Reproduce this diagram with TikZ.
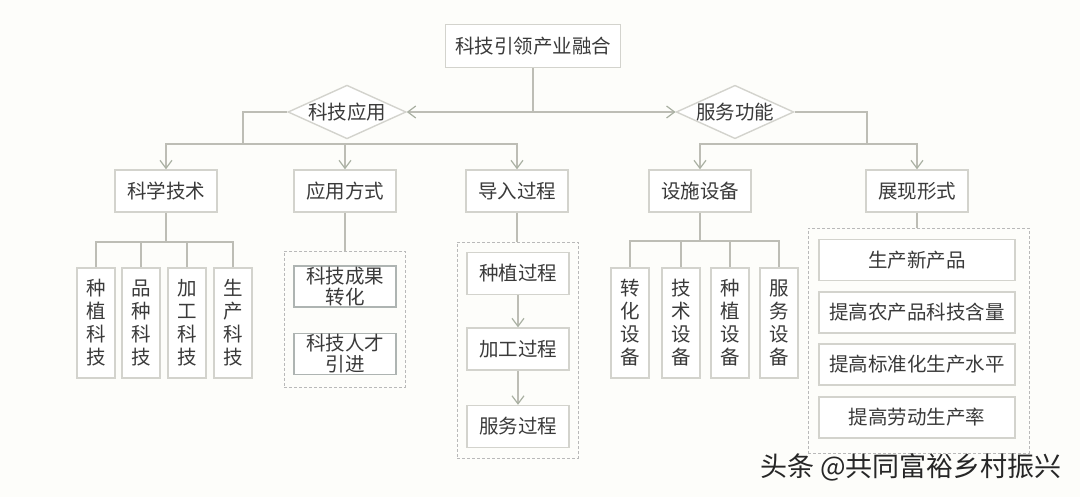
\documentclass[tikz,border=0pt]{standalone}
\usepackage{fontspec}
\setmainfont{Noto Sans CJK SC}
\usetikzlibrary{shapes.geometric,arrows.meta,positioning}

\definecolor{bgc}{HTML}{FDFDFA}
\definecolor{boxline}{HTML}{D3D3CD}
\definecolor{innerline}{HTML}{AEB4B2}
\definecolor{conn}{HTML}{BDBDB5}
\definecolor{tipc}{HTML}{A9B0A2}
\definecolor{txt}{HTML}{3A3A3A}

\begin{document}
\begin{tikzpicture}[x=1pt,y=-1pt,
    box/.style = {shape=rectangle, draw=boxline, line width=1.4pt, fill=white,
      text=txt, align=center, inner sep=0pt, font=\fontsize{19.5}{23}\selectfont,
      minimum width=102pt, minimum height=42pt},
    topbox/.style = {box, minimum width=175pt, minimum height=43pt},
    vbox/.style = {box, minimum width=38pt, minimum height=110pt},
    wbox/.style = {box, minimum width=196pt, minimum height=41pt},
    ibox/.style = {box, draw=innerline, line width=1.6pt, minimum height=41pt,
      font=\fontsize{19.5}{21}\selectfont},
    choice/.style = {shape=diamond, draw=boxline, line width=1.4pt, fill=white,
      text=txt, inner sep=0pt, aspect=2.2, font=\fontsize{19.5}{23}\selectfont,
      minimum width=116pt, minimum height=50pt},
    group/.style = {shape=rectangle, draw=gray!55, line width=0.8pt,
      dash pattern=on 3pt off 2pt, inner sep=0pt},
    line/.style = {draw=conn, line width=1.2pt},
    arr/.style = {line, -{Straight Barb[length=8pt, width=12pt, color=tipc]}},
    wmark/.style = {text=black!85, font=\fontsize{27}{30}\selectfont}]

  \fill[bgc] (0,0) rectangle (1080,497);
  \useasboundingbox (0,0) rectangle (1080,497);

  % top level
  \node[topbox] (top) at (533,46) {科技引领产业融合};
  \node[choice] (kjyy) at (347,112) {科技应用};
  \node[choice] (fwgn) at (735,112) {服务功能};

  % second level
  \node[box] (kxjs) at (166,191) {科学技术};
  \node[box] (yyfs) at (345,191) {应用方式};
  \node[box] (drgc) at (517,191) {导入过程};
  \node[box] (sssb) at (700,191) {设施设备};
  \node[box] (zxxs) at (917,191) {展现形式};

  % science and technology
  \node[vbox] (zzkj) at (96,323) {种\\植\\科\\技};
  \node[vbox] (pzkj) at (141,323) {品\\种\\科\\技};
  \node[vbox] (jgkj) at (187,323) {加\\工\\科\\技};
  \node[vbox] (sckj) at (233,323) {生\\产\\科\\技};

  % ways of application
  \node[group, minimum width=121pt, minimum height=136pt] (yyg) at (344.5,319) {};
  \node[ibox] (cgzh) at (345,286.5) {科技成果\\转化};
  \node[ibox] (rcyj) at (345,354) {科技人才\\引进};

  % process
  \node[group, minimum width=121pt, minimum height=216pt] (drg) at (517.5,350) {};
  \node[box] (zzgc) at (518,273.5) {种植过程};
  \node[box] (jggc) at (518,349) {加工过程};
  \node[box] (fwgc) at (518,426.5) {服务过程};

  % equipment
  \node[vbox] (zhsb) at (630,323) {转\\化\\设\\备};
  \node[vbox] (jssb) at (681,323) {技\\术\\设\\备};
  \node[vbox] (zzsb) at (730,323) {种\\植\\设\\备};
  \node[vbox] (fwsb) at (779,323) {服\\务\\设\\备};

  % forms
  \node[group, minimum width=221pt, minimum height=225pt] (zxg) at (918.5,340.5) {};
  \node[wbox] (sccp) at (917,260) {生产新产品};
  \node[wbox] (kjhl) at (917,312.5) {提高农产品科技含量};
  \node[wbox] (bzsp) at (917,364.5) {提高标准化生产水平};
  \node[wbox] (ldl) at (917,417.5) {提高劳动生产率};

  \node[wmark] (wm) at (911,467) {头条 @共同富裕乡村振兴};

  % connectors
  \coordinate (mid) at (top.south |- kjyy);
  \coordinate (kjbar) at (243,144);
  \coordinate (fwbar) at (867,144);
  \coordinate (kxbar) at (166,242);
  \coordinate (ssbar) at (700,241);

  \draw[line] (top.south) -- (mid);
  \draw[arr] (mid) -- (kjyy.east);
  \draw[arr] (mid) -- (fwgn.west);

  \draw[line] (kjyy.west) -| (kjbar);
  \draw[arr] (kjbar) -| (kxjs.north);
  \draw[arr] (kjbar) -| (yyfs.north);
  \draw[arr] (kjbar) -| (drgc.north);

  \draw[line] (fwgn.east) -| (fwbar);
  \draw[arr] (fwbar) -| (sssb.north);
  \draw[arr] (fwbar) -| (zxxs.north);

  \draw[line] (kxjs.south) -- (kxbar);
  \draw[line] (kxbar) -| (zzkj.north);
  \draw[line] (kxbar) -| (pzkj.north);
  \draw[line] (kxbar) -| (jgkj.north);
  \draw[line] (kxbar) -| (sckj.north);

  \draw[line] (yyfs.south) -- (yyfs.south |- yyg.north);
  \draw[line] (drgc.south) -- (drgc.south |- drg.north);
  \draw[arr] (zzgc) -- (jggc);
  \draw[arr] (jggc) -- (fwgc);

  \draw[line] (sssb.south) -- (ssbar);
  \draw[line] (ssbar) -| (zhsb.north);
  \draw[line] (ssbar) -| (jssb.north);
  \draw[line] (ssbar) -| (zzsb.north);
  \draw[line] (ssbar) -| (fwsb.north);

  \draw[line] (zxxs.south) -- (zxxs.south |- zxg.north);
\end{tikzpicture}
\end{document}
